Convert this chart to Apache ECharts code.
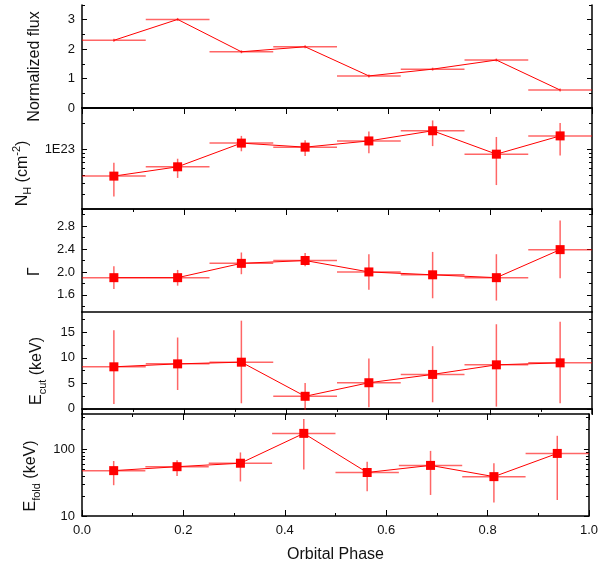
<!DOCTYPE html>
<html><head><meta charset="utf-8">
<script src="https://cdn.jsdelivr.net/npm/echarts@6/dist/echarts.min.js"></script>
<style>html,body{margin:0;padding:0;background:#fff}#c{width:601px;height:569px}</style>
</head><body><div id="c"></div>
<script>
// ---- data ----
const phase = [0.0625, 0.1875, 0.3125, 0.4375, 0.5625, 0.6875, 0.8125, 0.9375];
const phaseHalfWidth = [0.0625, 0.0625, 0.0625, 0.0625, 0.0625, 0.0625, 0.0625, 0.0625];

const flux   = [2.30, 3.01, 1.91, 2.08, 1.09, 1.32, 1.63, 0.61];
const fluxLo = [2.25, 2.96, 1.86, 2.03, 1.04, 1.27, 1.58, 0.56];
const fluxHi = [2.35, 3.06, 1.96, 2.13, 1.14, 1.37, 1.68, 0.66];

const nh   = [4.83e22, 6.2e22, 1.17e23, 1.05e23, 1.24e23, 1.63e23, 8.7e22, 1.42e23];
const nhLo = [2.8e22, 4.6e22, 9.4e22, 8.3e22, 8.9e22, 1.08e23, 3.8e22, 8.4e22];
const nhHi = [6.9e22, 7.7e22, 1.42e23, 1.26e23, 1.6e23, 2.15e23, 1.38e23, 2.0e23];

const gamma   = [1.90, 1.90, 2.15, 2.20, 2.00, 1.95, 1.90, 2.39];
const gammaLo = [1.70, 1.76, 1.96, 2.10, 1.69, 1.54, 1.50, 1.89];
const gammaHi = [2.10, 2.035, 2.34, 2.33, 2.31, 2.35, 2.31, 2.90];

const ecut   = [8.25, 8.83, 9.16, 2.47, 5.13, 6.76, 8.64, 9.03];
const ecutLo = [0.97, 3.7, 1.1, -0.2, 0.3, 1.3, 0.45, 1.1];
const ecutHi = [15.4, 14.0, 17.3, 5.07, 9.9, 12.3, 16.6, 17.1];

const efold   = [48, 55, 62, 174, 45, 57.5, 39, 87];
const efoldLo = [29, 40, 33, 50, 23.5, 20.7, 15.9, 17.4];
const efoldHi = [67, 69, 90, 286, 65, 95, 62, 160];

// ---- tick labels ----
const xTickLabels = [0, 0.2, 0.4, 0.6, 0.8, 1.0];
const fluxTicks = [0, 1, 2, 3];
const fluxMinor = [0.5, 1.5, 2.5, 3.5];
const nhTicks = [1e23];
const nhMinor = [2e22, 3e22, 4e22, 5e22, 6e22, 7e22, 8e22, 9e22, 2e23, 3e23];
const gammaTicks = [1.6, 2.0, 2.4, 2.8];
const gammaMinor = [1.4, 1.8, 2.2, 2.6, 3.0];
const ecutTicks = [0, 5, 10, 15];
const ecutMinor = [2.5, 7.5, 12.5, 17.5];
const efoldTicks = [10, 100];
const efoldMinor = [20, 30, 40, 50, 60, 70, 80, 90, 200, 300];

// ---- chart ----
const FONT = '"Liberation Sans", Arial, sans-serif';
const RED = '#ff0000';
const ERR = 'rgba(255,0,0,0.6)';
const gridTops = [5, 108, 209, 312, 414];
const gridHeights = [103, 101, 103, 102, 102];

const panels = [
  {name: '{n|Normalized flux}', gap: 36, pad: [0, 20, 0, 0], type: 'value', min: 0, max: 3.5,
   ticks: fluxTicks, minor: fluxMinor, y: flux, lo: fluxLo, hi: fluxHi, symbol: 'none', fmt: v => String(v)},
  {name: '{n|N}{sub|H}{n| (cm}{sup|-2}{n|)}', gap: 46, pad: [0, 30, 0, 0], type: 'log', min: 2e22, max: 3e23,
   ticks: nhTicks, minor: nhMinor, y: nh, lo: nhLo, hi: nhHi, symbol: 'rect', fmt: v => '1E23'},
  {name: '{n|Γ}', gap: 36, pad: [0, 22, 0, 0], type: 'value', min: 1.3, max: 3.1,
   ticks: gammaTicks, minor: gammaMinor, y: gamma, lo: gammaLo, hi: gammaHi, symbol: 'rect', fmt: v => v.toFixed(1)},
  {name: '{n|E}{sub|cut}{n| (keV)}', gap: 34, pad: [0, 16, 0, 0], type: 'value', min: -1, max: 19,
   ticks: ecutTicks, minor: ecutMinor, y: ecut, lo: ecutLo, hi: ecutHi, symbol: 'rect', fmt: v => String(v)},
  {name: '{n|E}{sub|fold}{n| (keV)}', gap: 40, pad: [0, 22, 0, 0], type: 'log', min: 10, max: 340,
   ticks: efoldTicks, minor: efoldMinor, y: efold, lo: efoldLo, hi: efoldHi, symbol: 'rect', fmt: v => String(v)}
];

const nameRich = {
  n: {fontSize: 16, fontFamily: FONT, color: '#111', lineHeight: 22},
  sub: {fontSize: 11, fontFamily: FONT, color: '#111', lineHeight: 11, verticalAlign: 'bottom'},
  sup: {fontSize: 11, fontFamily: FONT, color: '#111', lineHeight: 11, verticalAlign: 'top'}
};

const grid = [], xAxis = [], yAxis = [], series = [];
const axisLine = {show: true, lineStyle: {color: '#000', width: 1.5}};

panels.forEach((p, i) => {
  const last = i === panels.length - 1;
  grid.push({left: 82, right: 9, top: gridTops[i], height: gridHeights[i]});
  // bottom x axis
  xAxis.push({
    gridIndex: i, type: 'value', min: 0, max: 1, interval: 0.2, position: 'bottom',
    axisLine,
    axisTick: {show: last, inside: true, length: 6, lineStyle: {color: '#000', width: 1}},
    minorTick: {show: last, splitNumber: 2, length: 3, lineStyle: {color: '#000', width: 1}},
    axisLabel: {show: last, customValues: xTickLabels, formatter: v => v.toFixed(1), fontSize: 13, fontFamily: FONT, color: '#111', margin: 8},
    splitLine: {show: false},
    name: last ? 'Orbital Phase' : '', nameLocation: 'middle', nameGap: 31,
    nameTextStyle: {fontSize: 16, fontFamily: FONT, color: '#111'}
  });
  // top x axis
  xAxis.push({
    gridIndex: i, type: 'value', min: 0, max: 1, interval: 0.2, position: 'top',
    axisLine,
    axisTick: {show: true, inside: true, length: 6, lineStyle: {color: '#000', width: 1}},
    minorTick: {show: true, splitNumber: 2, length: 3, lineStyle: {color: '#000', width: 1}},
    axisLabel: {show: false}, splitLine: {show: false}
  });
  const base = {gridIndex: i, type: p.type, min: p.min, max: p.max, splitLine: {show: false}};
  if (p.type === 'log') base.logBase = 10;
  // left main
  yAxis.push(Object.assign({}, base, {
    position: 'left', axisLine,
    axisTick: {show: true, inside: true, length: 5, customValues: p.ticks, lineStyle: {color: '#000', width: 1}},
    axisLabel: {show: true, customValues: p.ticks, formatter: p.fmt, fontSize: 13, fontFamily: FONT, color: '#111', margin: 7},
    name: p.name, nameLocation: 'middle', nameGap: p.gap, nameRotate: 90,
    nameTextStyle: {rich: nameRich, padding: p.pad}
  }));
  // left minor
  yAxis.push(Object.assign({}, base, {
    position: 'left', axisLine: {show: false},
    axisTick: {show: true, inside: true, length: 3, customValues: p.minor, lineStyle: {color: '#000', width: 1}},
    axisLabel: {show: false}
  }));
  // right main
  yAxis.push(Object.assign({}, base, {
    position: 'right', axisLine,
    axisTick: {show: true, inside: true, length: 5, customValues: p.ticks, lineStyle: {color: '#000', width: 1}},
    axisLabel: {show: false}
  }));
  // right minor
  yAxis.push(Object.assign({}, base, {
    position: 'right', axisLine: {show: false},
    axisTick: {show: true, inside: true, length: 3, customValues: p.minor, lineStyle: {color: '#000', width: 1}},
    axisLabel: {show: false}
  }));

  series.push({
    type: 'custom', coordinateSystem: 'cartesian2d', xAxisIndex: 2 * i, yAxisIndex: 4 * i,
    data: phase.map((x, k) => [x, p.y[k], x - phaseHalfWidth[k], x + phaseHalfWidth[k], p.lo[k], p.hi[k]]),
    encode: {x: 0, y: 1},
    z: 2, silent: true,
    renderItem: (params, api) => {
      const c = api.coord([api.value(0), api.value(1)]);
      const l = api.coord([api.value(2), api.value(1)]);
      const r = api.coord([api.value(3), api.value(1)]);
      const b = api.coord([api.value(0), api.value(4)]);
      const t = api.coord([api.value(0), api.value(5)]);
      const st = {stroke: ERR, lineWidth: 1.5};
      return {type: 'group', children: [
        {type: 'line', shape: {x1: l[0], y1: l[1], x2: r[0], y2: r[1]}, style: st},
        {type: 'line', shape: {x1: c[0], y1: b[1], x2: c[0], y2: t[1]}, style: st}
      ]};
    }
  });
  series.push({
    type: 'line', xAxisIndex: 2 * i, yAxisIndex: 4 * i,
    data: phase.map((x, k) => [x, p.y[k]]),
    symbol: p.symbol, symbolSize: 9, showSymbol: p.symbol !== 'none',
    itemStyle: {color: RED}, lineStyle: {color: RED, width: 1}, z: 3
  });
});

const chart = echarts.init(document.getElementById('c'), null, {renderer: 'canvas'});
chart.setOption({animation: false, backgroundColor: '#fff', grid, xAxis, yAxis, series});
</script>
</body></html>
